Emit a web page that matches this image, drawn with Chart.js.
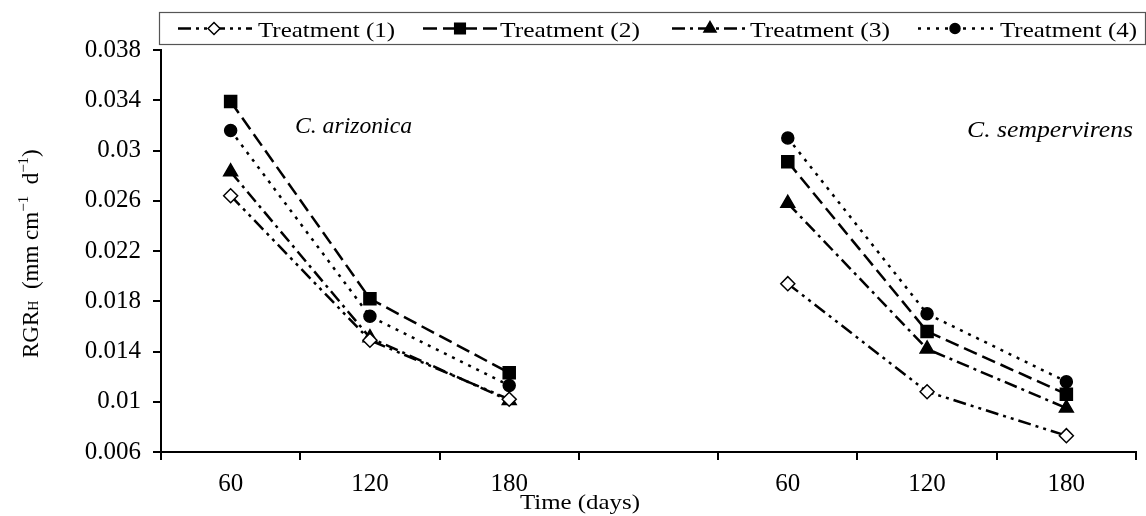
<!DOCTYPE html>
<html>
<head>
<meta charset="utf-8">
<script src="https://cdn.jsdelivr.net/npm/chart.js@4"></script>
<style>
html,body{margin:0;padding:0;background:#fff;}
</style>
</head>
<body>
<canvas id="myChart" width="1146" height="516"></canvas>
<script>
// x categories: two species side by side, one empty slot between them
var days=["60","120","180","","60","120","180"];
var names=["Treatment (1)","Treatment (2)","Treatment (3)","Treatment (4)"];
var t1=[0.0264,0.0149,0.0102,null,0.0194,0.0108,0.0073];
var t2=[0.0339,0.0182,0.0123,null,0.0291,0.0156,0.0106];
var t3=[0.0283,0.0151,0.0101,null,0.0258,0.0142,0.0095];
var t4=[0.0316,0.0168,0.0113,null,0.0310,0.0170,0.0116];
var yTicks=[0.006,0.01,0.014,0.018,0.022,0.026,0.03,0.034,0.038];
var species=["C. arizonica","C. sempervirens"];

var serif="'Liberation Serif','Times New Roman',serif";
var styles=[
  {pt:'rectRot',r:7,fill:'#fff',dash:[13,5,3,5,3,5]},
  {pt:'rect',r:8.5,fill:'#000',dash:[14,6]},
  {pt:'triangle',r:8,fill:'#000',dash:[13,5,3,5]},
  {pt:'circle',r:6,fill:'#000',dash:[3,6]}
];
var series=[t1,t2,t3,t4];

var sets=[];
for(var i=0;i<4;i++){
  sets.push({label:names[i],data:series[i],borderColor:'#000',borderWidth:2.5,borderDash:styles[i].dash,
    pointStyle:styles[i].pt,pointRadius:styles[i].r,pointHoverRadius:styles[i].r,
    pointBackgroundColor:styles[i].fill,pointBorderColor:'#000',pointBorderWidth:1.5,
    fill:false,tension:0,spanGaps:false});
}

function stretched(ctx,text,x,y,w,font){
  ctx.font=font;
  var m=ctx.measureText(text).width;
  ctx.save();
  ctx.translate(x,y);
  ctx.scale(w/m,1);
  ctx.textAlign='left';ctx.textBaseline='alphabetic';
  ctx.fillText(text,0,0);
  ctx.restore();
}

var extras={
  id:'extras',
  afterDraw:function(chart){
    var ctx=chart.ctx;
    ctx.save();
    ctx.fillStyle='#000';ctx.strokeStyle='#000';
    // legend box
    ctx.lineWidth=1.2;ctx.strokeStyle='#555';
    ctx.strokeRect(159.5,12.5,986,32);
    ctx.strokeStyle='#000';
    var lx=[[178,252,214,258,137],[423,498,460,500,140],[672,747,710,750,140],[918,993,955,1000,137]];
    for(var i=0;i<4;i++){
      var it=lx[i];
      ctx.lineWidth=2.5;ctx.setLineDash(styles[i].dash);
      ctx.beginPath();ctx.moveTo(it[0],28.5);ctx.lineTo(it[1],28.5);ctx.stroke();
      ctx.setLineDash([]);
      ctx.fillStyle=styles[i].fill;ctx.lineWidth=1.5;
      Chart.helpers.drawPoint(ctx,{pointStyle:styles[i].pt,radius:styles[i].r-1,rotation:0,borderWidth:1.5},it[2],28.5);
      ctx.fillStyle='#000';
      stretched(ctx,names[i],it[3],37,it[4],"22px "+serif);
    }
    // species labels
    stretched(ctx,species[0],295,133,117,"italic 24px "+serif);
    stretched(ctx,species[1],967,137,166,"italic 24px "+serif);
    // x title
    stretched(ctx,"Time (days)",520,509,120,"22px "+serif);
    // y title, rotated, with sub/superscripts
    ctx.translate(38,358);ctx.rotate(-Math.PI/2);
    ctx.textAlign='left';ctx.textBaseline='alphabetic';
    var x=0;
    var parts=[["RGR",23,0],["H",14,0],["  (mm cm",23,0],["\u22121",15,-10],["  d",23,0],["\u22121",15,-10],[")",23,0]];
    for(var j=0;j<parts.length;j++){
      ctx.font=parts[j][1]+"px "+serif;
      ctx.fillText(parts[j][0],x,parts[j][2]);
      x+=ctx.measureText(parts[j][0]).width;
    }
    ctx.restore();
  }
};

var ctx=document.getElementById("myChart");
var myChart=new Chart(ctx,{
  type:'line',
  data:{labels:days,datasets:sets},
  options:{
    responsive:false,animation:false,
    layout:{padding:{left:0,right:0,top:50,bottom:0}},
    plugins:{legend:{display:false},tooltip:{enabled:false}},
    scales:{
      x:{type:'category',offset:true,
        grid:{offset:true,drawOnChartArea:false,drawTicks:true,tickLength:8,color:'#000',lineWidth:2},
        border:{display:true,color:'#000',width:2},
        ticks:{font:{family:serif,size:25},color:'#000',padding:9,autoSkip:false,maxRotation:0},
        afterFit:function(s){s.height=64;s.paddingLeft=0;s.paddingRight=0;}
      },
      y:{type:'linear',min:0.006,max:0.038,
        afterBuildTicks:function(s){s.ticks=yTicks.map(function(v){return {value:v};});},
        grid:{drawOnChartArea:false,drawTicks:true,tickLength:8,color:'#000',lineWidth:2},
        border:{display:true,color:'#000',width:2},
        ticks:{font:{family:serif,size:25},color:'#000',padding:12,
          callback:function(v){return String(+v.toFixed(3));}},
        afterFit:function(s){s.width=161;s.paddingTop=0;s.paddingBottom=0;}
      }
    }
  },
  plugins:[extras]
});
</script>
</body>
</html>
